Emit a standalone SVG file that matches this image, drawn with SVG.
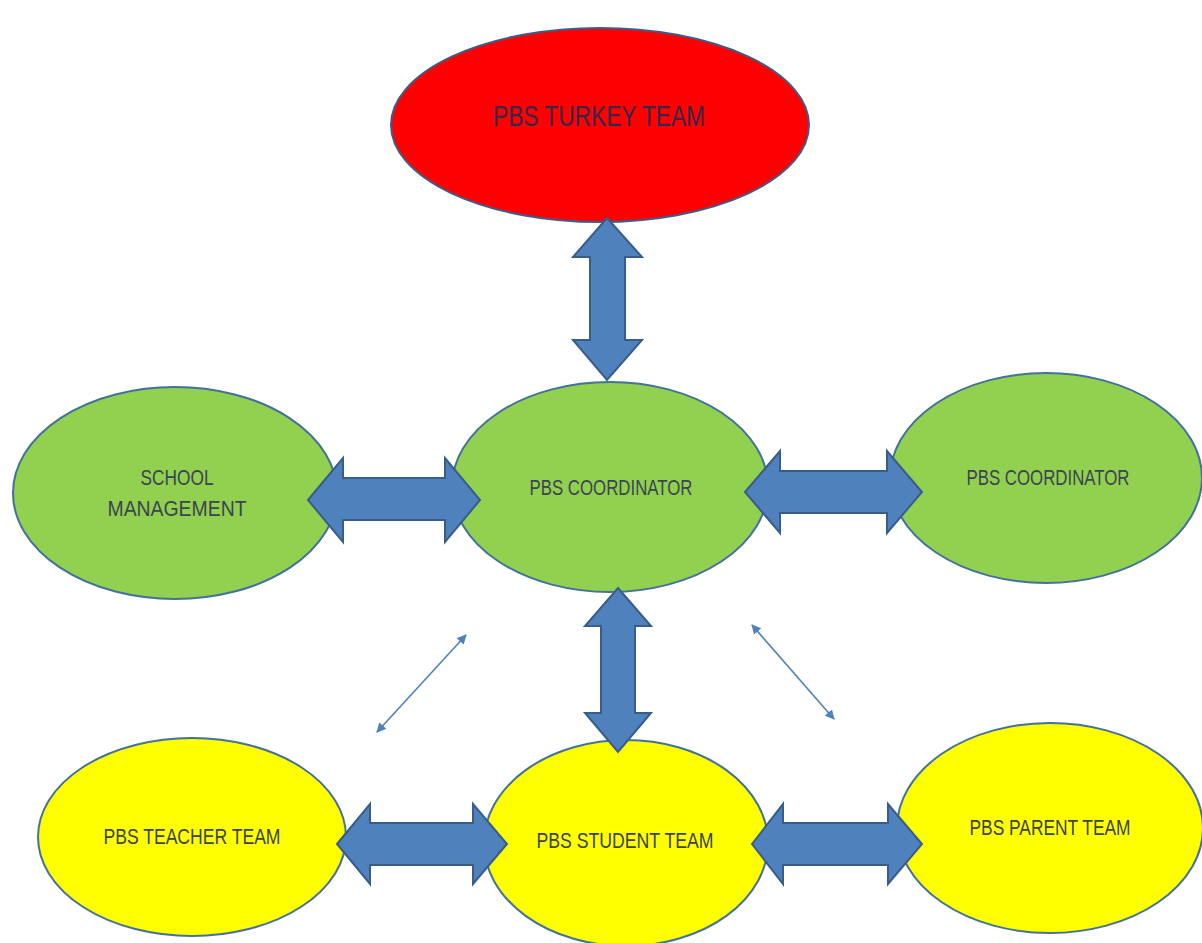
<svg xmlns="http://www.w3.org/2000/svg" width="1202" height="943" viewBox="0 0 1202 943">
<defs>
<style>
.red{fill:#ff0000;stroke:#3e5d86;stroke-width:2}
.green{fill:#92d050;stroke:#41719c;stroke-width:2}
.yellow{fill:#ffff00;stroke:#41719c;stroke-width:2}
.lbl{font-family:"Liberation Sans",Arial,sans-serif;font-size:22px;fill:#3b4452;text-anchor:middle;dominant-baseline:central}
.big{font-size:30px;fill:#33284a}
.arr{fill:#4f81bd;stroke:#385d8a;stroke-width:2;stroke-linejoin:miter}
.thin{fill:none;stroke:#4f81bd;stroke-width:1.6}
</style>
<marker id="ah" viewBox="0 0 10 10" refX="9" refY="5" markerWidth="6" markerHeight="6" orient="auto-start-reverse" markerUnits="strokeWidth">
<path d="M0,0 L10,5 L0,10 z" fill="#4f81bd"/>
</marker>
</defs>
<rect width="1202" height="943" fill="#ffffff"/>
<g id="turkey">
<ellipse class="red" cx="600" cy="125" rx="209" ry="97"/>
<text class="lbl big" x="599" y="115" textLength="212" lengthAdjust="spacingAndGlyphs">PBS TURKEY TEAM</text>
</g>
<g id="school">
<ellipse class="green" cx="175" cy="493" rx="162" ry="106"/>
<text class="lbl" x="177" y="477" textLength="73" lengthAdjust="spacingAndGlyphs">SCHOOL</text>
<text class="lbl" x="177" y="508" textLength="139" lengthAdjust="spacingAndGlyphs">MANAGEMENT</text>
</g>
<g id="coord-center">
<ellipse class="green" cx="610" cy="487" rx="158" ry="105"/>
<text class="lbl" x="611" y="487" textLength="163" lengthAdjust="spacingAndGlyphs">PBS COORDINATOR</text>
</g>
<g id="coord-right">
<ellipse class="green" cx="1046" cy="478" rx="156" ry="105"/>
<text class="lbl" x="1048" y="477" textLength="163" lengthAdjust="spacingAndGlyphs">PBS COORDINATOR</text>
</g>
<g id="teacher">
<ellipse class="yellow" cx="192" cy="837" rx="154" ry="99"/>
<text class="lbl" x="192" y="836" textLength="177" lengthAdjust="spacingAndGlyphs">PBS TEACHER TEAM</text>
</g>
<g id="student">
<ellipse class="yellow" cx="626" cy="843" rx="142" ry="103"/>
<text class="lbl" x="625" y="840" textLength="177" lengthAdjust="spacingAndGlyphs">PBS STUDENT TEAM</text>
</g>
<g id="parent">
<ellipse class="yellow" cx="1050" cy="828" rx="153" ry="105"/>
<text class="lbl" x="1050" y="827" textLength="161" lengthAdjust="spacingAndGlyphs">PBS PARENT TEAM</text>
</g>
<g id="connectors">
<polygon class="arr" points="607,218 642,257 625,257 625,340 642,340 607,380 573,340 590,340 590,257 573,257"/>
<polygon class="arr" points="308,500 343,458 343,478 445,478 445,458 480,500 445,542 445,520 343,520 343,542"/>
<polygon class="arr" points="745,492 780,451 780,471 887,471 887,451 922,492 887,533 887,513 780,513 780,533"/>
<polygon class="arr" points="618,588 651,626 635,626 635,713 651,713 618,752 585,713 601,713 601,626 585,626"/>
<polygon class="arr" points="337,844 370,804 370,823 473,823 473,804 507,844 473,884 473,865 370,865 370,884"/>
<polygon class="arr" points="752,844 783,804 783,823 888,823 888,804 922,844 888,884 888,865 783,865 783,884"/>
<line class="thin" x1="466" y1="635" x2="377" y2="732" marker-start="url(#ah)" marker-end="url(#ah)"/>
<line class="thin" x1="752" y1="625" x2="834" y2="719" marker-start="url(#ah)" marker-end="url(#ah)"/>
</g>
</svg>
